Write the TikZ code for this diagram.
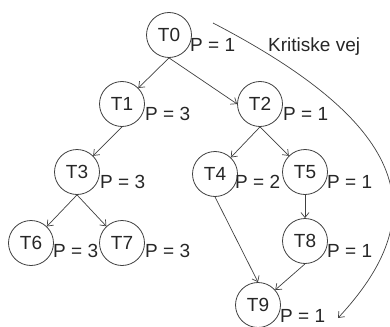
\documentclass[tikz,border=0pt]{standalone}
\usepackage{fontspec}
\setmainfont{Liberation Sans}
\usetikzlibrary{arrows.meta}
\begin{document}
\begin{tikzpicture}[x=1pt,y=-1pt,
  task/.style={circle,draw=black!75,line width=0.8pt,minimum size=45pt,inner sep=0pt,
    font=\fontsize{19}{19}\selectfont,text=black!85},
  prio/.style={anchor=base west,inner sep=0pt,font=\fontsize{19}{19}\selectfont,text=black!85},
  link/.style={draw=black!75,line width=0.7pt,-{Straight Barb[length=5pt,width=8pt]}}]
\useasboundingbox (0,0) rectangle (390,326);

% tasks
\node[task] (t0) at (169,35) {T0};
\node[task] (t1) at (122,104) {T1};
\node[task] (t2) at (260,104) {T2};
\node[task] (t3) at (77,172) {T3};
\node[task] (t4) at (215,174) {T4};
\node[task] (t5) at (305,172) {T5};
\node[task] (t6) at (31,243) {T6};
\node[task] (t7) at (122,243) {T7};
\node[task] (t8) at (305,241) {T8};
\node[task] (t9) at (258,305) {T9};

% priorities
\node[prio] (p0) at (190,52) {P = 1};
\node[prio] (p1) at (145,120) {P = 3};
\node[prio] (p2) at (283,120) {P = 1};
\node[prio] (p3) at (100,188) {P = 3};
\node[prio] (p4) at (235,188) {P = 2};
\node[prio] (p5) at (327,188) {P = 1};
\node[prio] (p6) at (53,257) {P = 3};
\node[prio] (p7) at (145,257) {P = 3};
\node[prio] (p8) at (327,257) {P = 1};
\node[prio] (p9) at (280,322) {P = 1};

% dependencies
\draw[link] (t0.south) -- (t1);
\draw[link] (t0.south) -- (t2.west);
\draw[link] (t1.south) -- (t3);
\draw[link] (t2.south) -- (t4);
\draw[link] (t2.south) -- (t5);
\draw[link] (t3.south) -- (t6);
\draw[link] (t3.south) -- (t7);
\draw[link] (t5) -- (t8);
\draw[link] (t4.south) -- (t9.north);
\draw[link] (t8.south) -- (t9);

% critical path
\coordinate (kv0) at (213,23);
\coordinate (kv1) at (338,318);
\draw[link] (kv0) .. controls (413,127) and (433,216) .. (kv1);
\node[prio] (kv) at (268,52) {Kritiske vej};
\end{tikzpicture}
\end{document}
